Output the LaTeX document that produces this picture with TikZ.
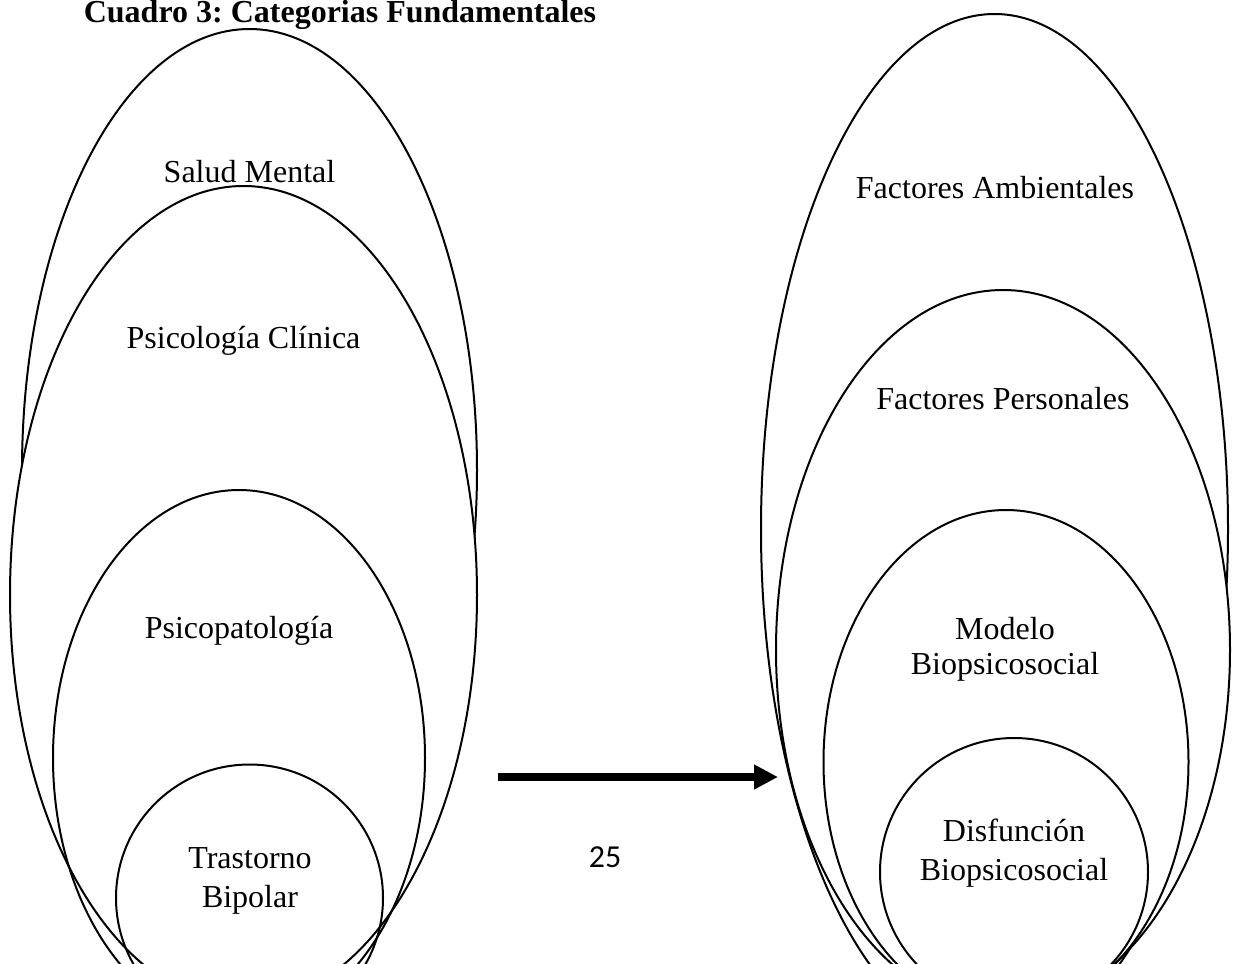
\documentclass[tikz,border=0pt]{standalone}
\usepackage{fontspec}
\setmainfont{Liberation Serif}
\newfontfamily\pagenumfont{Carlito}
\usetikzlibrary{arrows.meta}
\frenchspacing

\begin{document}
\begin{tikzpicture}[x=0.375pt, y=-0.375pt, line width=0.75pt,
  lbl/.style={font=\fontsize{12}{14.5}\selectfont, align=center, inner sep=0pt},
  whiteoval/.style={draw, fill=white},
  bigarrow/.style={line width=3.1pt, -{Triangle[length=9pt, width=8.8pt]}},
]
  \useasboundingbox (0,0) rectangle (1236,964);
  \clip (0,0) rectangle (1236,964);
  % centros de los ovalos (izquierda)
  \coordinate (sm) at (249.5,470);
  \coordinate (pc) at (243.5,595);
  \coordinate (pp) at (239,758);
  \coordinate (tb) at (249.5,898);
  % centros de los ovalos (derecha)
  \coordinate (fa) at (994.5,529);
  \coordinate (fp) at (1003,650);
  \coordinate (mb) at (1006,762);
  \coordinate (db) at (1014,872);
  \draw (sm) ellipse [x radius=227.5, y radius=441];
  \draw[whiteoval] (pc) ellipse [x radius=233.5, y radius=409];
  \draw (pp) ellipse [x radius=186, y radius=268];
  \draw (tb) circle [radius=133.5];
  \draw (fa) ellipse [x radius=233.5, y radius=515];
  \draw[whiteoval] (fp) ellipse [x radius=227, y radius=360];
  \draw (mb) ellipse [x radius=182.5, y radius=252];
  \draw (db) circle [radius=134];
  % textos
  \node[lbl, font=\fontsize{12}{14.5}\selectfont\bfseries, anchor=base] (title) at (340,22) {Cuadro 3: Categorias Fundamentales};
  \node[lbl, anchor=base] (smtext) at (249.5,182) {Salud Mental};
  \node[lbl, anchor=base] (pctext) at (243.5,348) {Psicología Clínica};
  \node[lbl, anchor=base] (pptext) at (239,638) {Psicopatología};
  \node[lbl] (tbtext) at (250,881) {Trastorno\\Bipolar};
  \node[lbl, anchor=base] (fatext) at (995,198) {Factores Ambientales};
  \node[lbl, anchor=base] (fptext) at (1003,409) {Factores Personales};
  \node[lbl, font=\fontsize{12}{13.2}\selectfont] (mbtext) at (1005,649) {Modelo\\Biopsicosocial};
  \node[lbl] (dbtext) at (1014,853) {Disfunción\\Biopsicosocial};
  \node[lbl, font=\pagenumfont\fontsize{12}{14.5}\selectfont, anchor=base] (pagenum) at (605,867) {25};
  % flecha
  \coordinate (arrS) at (498,777);
  \coordinate (arrE) at (778,777);
  \draw[bigarrow] (arrS) -- (arrE);
\end{tikzpicture}
\end{document}
